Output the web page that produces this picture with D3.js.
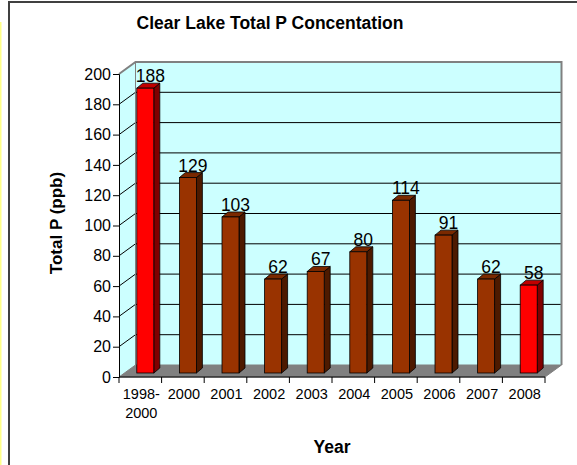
<!DOCTYPE html>
<html>
<head>
<meta charset="utf-8">
<script src="https://cdn.jsdelivr.net/npm/d3@7"></script>
<style>
  body { margin: 0; background: #fff; }
  svg { display: block; font-family: Arial, "Liberation Sans", sans-serif; }
</style>
</head>
<body>
<div id="chart"></div>
<script>
// data
var years = ["1998-2000", "2000", "2001", "2002", "2003", "2004", "2005", "2006", "2007", "2008"];
var totalP = [188, 129, 103, 62, 67, 80, 114, 91, 62, 58];
var highlighted = ["1998-2000", "2008"];
var yTicks = [0, 20, 40, 60, 80, 100, 120, 140, 160, 180, 200];

var W = 577, H = 465;
var svg = d3.select("#chart").append("svg")
    .attr("width", W)
    .attr("height", H);

// frame
svg.append("line").attr("x1", 0.5).attr("x2", 0.5).attr("y1", 22).attr("y2", H)
  .attr("stroke", "#ffff88").attr("stroke-width", 2);
svg.append("path").attr("d", "M9," + H + "V2H" + W)
  .attr("fill", "none").attr("stroke", "#404040").attr("stroke-width", 2);

var x = d3.scaleBand().domain(years).range([119, 545]);
var y = d3.scaleLinear().domain([0, 200]).range([377, 74]);

// depth offsets (back wall, bar plane)
var dx = 16.5, dy = -12;
var bdx = 5, bdy = -4, bw = 17, bd = 6, bdh = -5;

var x0 = x.range()[0], x1 = x.range()[1];

// side wall
svg.append("path")
  .attr("d", "M" + x0 + "," + y(0) + "L" + x0 + "," + y(200) + "L" + (x0 + dx) + "," + (y(200) + dy) +
    "L" + (x0 + dx) + "," + (y(0) + dy) + "Z")
  .attr("fill", "#ccffff");
// back wall
svg.append("rect")
  .attr("x", x0 + dx).attr("y", y(200) + dy)
  .attr("width", x1 - x0).attr("height", y(0) - y(200))
  .attr("fill", "#ccffff");

// gridlines on the back wall + diagonal on side wall
var grid = svg.append("g");
yTicks.filter(function(d) { return d > 0 && d < 200; }).forEach(function(t) {
  grid.append("path")
    .attr("d", "M" + x0 + "," + y(t) + "L" + (x0 + dx) + "," + (y(t) + dy) + "H" + (x1 + dx))
    .attr("fill", "none").attr("stroke", "#000").attr("stroke-width", 1);
});

// wall outlines
svg.append("path")
  .attr("d", "M" + x0 + "," + y(200) + "L" + (x0 + dx) + "," + (y(200) + dy) + "H" + (x1 + dx) + "V" + (y(0) + dy))
  .attr("fill", "none").attr("stroke", "#808080").attr("stroke-width", 2);
svg.append("line")
  .attr("x1", x0 + dx).attr("x2", x0 + dx).attr("y1", y(200) + dy).attr("y2", y(0) + dy)
  .attr("stroke", "#808080").attr("stroke-width", 1);

// floor
svg.append("path")
  .attr("d", "M" + x0 + "," + y(0) + "H" + x1 + "L" + (x1 + dx) + "," + (y(0) + dy) + "H" + (x0 + dx) + "Z")
  .attr("fill", "#808080").attr("stroke", "#808080");

// bars
var bars = svg.append("g");
years.forEach(function(yr, i) {
  var v = totalP[i];
  var hot = highlighted.indexOf(yr) >= 0;
  var front = hot ? "#ff0000" : "#993300";
  var side = hot ? "#800000" : "#4d1a00";
  var top = hot ? "#c00000" : "#7a2900";
  var bx = x(yr) + x.bandwidth() / 2 + bdx - bw / 2;
  var yt = y(v) + bdy, yb = y(0) + bdy;

  bars.append("path")
    .attr("d", "M" + (bx + bw) + "," + yt + "L" + (bx + bw + bd) + "," + (yt + bdh) +
      "L" + (bx + bw + bd) + "," + (yb + bdh) + "L" + (bx + bw) + "," + yb + "Z")
    .attr("fill", side).attr("stroke", "#000").attr("stroke-width", 0.8);
  bars.append("path")
    .attr("d", "M" + bx + "," + yt + "H" + (bx + bw) + "L" + (bx + bw + bd) + "," + (yt + bdh) +
      "H" + (bx + bd) + "Z")
    .attr("fill", top).attr("stroke", "#000").attr("stroke-width", 0.8);
  bars.append("rect")
    .attr("x", bx).attr("y", yt).attr("width", bw).attr("height", yb - yt)
    .attr("fill", front).attr("stroke", "#000").attr("stroke-width", 0.8);

  bars.append("text")
    .attr("x", bx + bw / 2 + 5)
    .attr("y", yt - 6)
    .attr("text-anchor", "middle")
    .attr("font-size", "17.5px")
    .attr("fill", "#000")
    .text(v);
});

// y axis
var yAxis = svg.append("g")
  .attr("transform", "translate(" + x0 + ",0)")
  .call(d3.axisLeft(y).tickValues(yTicks).tickSize(6).tickPadding(2));
yAxis.select(".domain").attr("stroke", "#000");
yAxis.selectAll("text").attr("font-size", "16px").attr("font-family", "Arial, 'Liberation Sans', sans-serif").attr("fill", "#000");

// x axis
var xAxis = svg.append("g")
  .attr("transform", "translate(0," + y(0) + ")");
xAxis.append("line").attr("x1", x0).attr("x2", x1).attr("y1", 0).attr("y2", 0).attr("stroke", "#000");
x.domain().concat(["end"]).forEach(function(yr, i) {
  var tx = x0 + i * x.bandwidth();
  xAxis.append("line").attr("x1", tx).attr("x2", tx).attr("y1", 0).attr("y2", 6).attr("stroke", "#000");
});
years.forEach(function(yr) {
  var parts = yr.indexOf("-") > 0 ? [yr.split("-")[0] + "-", yr.split("-")[1]] : [yr];
  var t = xAxis.append("text")
    .attr("text-anchor", "middle")
    .attr("font-size", "14.5px")
    .attr("fill", "#000");
  parts.forEach(function(p, k) {
    t.append("tspan").attr("x", x(yr) + x.bandwidth() / 2 + 1).attr("y", 22 + k * 19).text(p);
  });
});

// titles
svg.append("text")
  .attr("x", 270).attr("y", 29)
  .attr("text-anchor", "middle")
  .attr("font-size", "17.5px").attr("font-weight", "bold")
  .text("Clear Lake Total P Concentation");

svg.append("text")
  .attr("transform", "translate(62,223) rotate(-90)")
  .attr("text-anchor", "middle")
  .attr("font-size", "17px").attr("font-weight", "bold")
  .text("Total P (ppb)");

svg.append("text")
  .attr("x", 332).attr("y", 453)
  .attr("text-anchor", "middle")
  .attr("font-size", "17.5px").attr("font-weight", "bold")
  .text("Year");
</script>
</body>
</html>
